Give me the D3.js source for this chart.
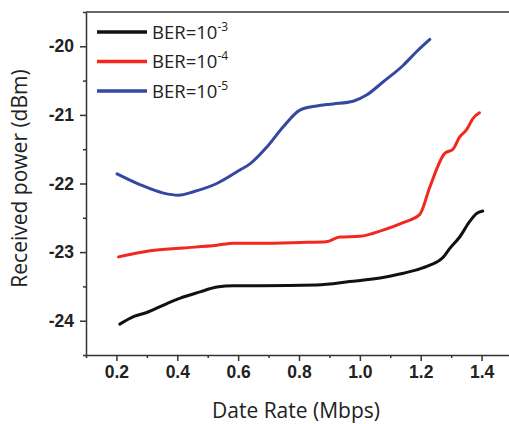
<!DOCTYPE html>
<html>
<head>
<meta charset="utf-8">
<script src="https://cdn.jsdelivr.net/npm/d3@7"></script>
<style>
  body { margin: 0; background: #fff; }
  svg { display: block; font-family: "Open Sans", "Noto Sans", sans-serif; }
  .axis path, .axis line { stroke: #333; stroke-width: 1.5; }
  .axis text { font-size: 17.5px; font-weight: 700; fill: #222; }
  .title { font-size: 21px; fill: #222; }
  .legend-label { font-size: 18.5px; fill: #222; }
</style>
</head>
<body>
<div id="chart"></div>
<script>
// data
const xTicks = [0.2, 0.4, 0.6, 0.8, 1.0, 1.2, 1.4];
const yTicks = [-20, -21, -22, -23, -24];

const ber3 = [
  [0.211, -24.05], [0.256, -23.94], [0.30, -23.88], [0.366, -23.75], [0.41, -23.67],
  [0.475, -23.58], [0.53, -23.51], [0.585, -23.49], [0.672, -23.49], [0.858, -23.48],
  [0.967, -23.43], [1.076, -23.37], [1.131, -23.32], [1.186, -23.26], [1.23, -23.19],
  [1.273, -23.08], [1.295, -22.95], [1.328, -22.78], [1.36, -22.56], [1.383, -22.44],
  [1.404, -22.40]
];
const ber4 = [
  [0.207, -23.07], [0.311, -22.98], [0.42, -22.94], [0.53, -22.90], [0.585, -22.87],
  [0.672, -22.87], [0.803, -22.86], [0.89, -22.85], [0.934, -22.78], [1.0, -22.77],
  [1.076, -22.68], [1.142, -22.57], [1.197, -22.45], [1.23, -22.05], [1.279, -21.56],
  [1.306, -21.50], [1.328, -21.32], [1.35, -21.22], [1.372, -21.05], [1.393, -20.97]
];
const ber5 = [
  [0.202, -21.86], [0.279, -22.02], [0.355, -22.14], [0.404, -22.17], [0.453, -22.12],
  [0.53, -22.0], [0.607, -21.80], [0.64, -21.71], [0.694, -21.47], [0.749, -21.17],
  [0.803, -20.93], [0.858, -20.87], [0.912, -20.84], [0.978, -20.80], [1.022, -20.71],
  [1.076, -20.52], [1.142, -20.28], [1.186, -20.08], [1.23, -19.90]
];
const seriesNames = ["-3", "-4", "-5"];
const seriesColors = ["#111111", "#f2271d", "#3547a0"];

const width = 509, height = 424;
const margin = {top: 12, right: -3, bottom: 69, left: 86};
const innerW = width - margin.left - margin.right;
const innerH = height - margin.top - margin.bottom;

const svg = d3.select('#chart').append('svg')
    .attr('width', width)
    .attr('height', height);

const g = svg.append('g')
    .attr('transform', `translate(${margin.left},${margin.top})`);

const x = d3.scaleLinear().domain([0.1, 1.5]).range([0, innerW]);
const y = d3.scaleLinear().domain([-24.5, -19.5]).range([innerH, 0]);

// minor ticks
g.append('g')
    .attr('class', 'axis')
    .attr('transform', `translate(0,${innerH})`)
    .call(d3.axisBottom(x).tickValues(d3.range(0.1, 1.55, 0.2)).tickSize(3).tickFormat(''))
    .select('.domain').remove();
g.append('g')
    .attr('class', 'axis')
    .call(d3.axisLeft(y).tickValues(d3.range(-24.5, -19.4, 1)).tickSize(3).tickFormat(''))
    .select('.domain').remove();

// major axes
g.append('g')
    .attr('class', 'axis')
    .attr('transform', `translate(0,${innerH})`)
    .call(d3.axisBottom(x).tickValues(xTicks).tickSize(6).tickSizeOuter(0).tickPadding(5)
      .tickFormat(d3.format('.1f')));
g.append('g')
    .attr('class', 'axis')
    .call(d3.axisLeft(y).tickValues(yTicks).tickSize(6).tickSizeOuter(0).tickPadding(6)
      .tickFormat(d => d3.format('d')(d).replace('−', '-')));

// top border
g.append('line')
    .attr('x1', 0).attr('x2', innerW)
    .attr('y1', 0).attr('y2', 0)
    .attr('stroke', '#333').attr('stroke-width', 1.5);

const line = d3.line()
    .x(d => x(d[0]))
    .y(d => y(d[1]))
    .curve(d3.curveMonotoneX);

[ber3, ber4, ber5].forEach((s, i) => {
  g.append('path')
      .datum(s)
      .attr('fill', 'none')
      .attr('stroke', seriesColors[i])
      .attr('stroke-width', 3)
      .attr('stroke-linecap', 'round')
      .attr('d', line);
});

// legend
const legend = svg.append('g').attr('transform', 'translate(97,32)');
seriesNames.forEach((n, i) => {
  const row = legend.append('g').attr('transform', `translate(0,${i * 29.5})`);
  row.append('line')
      .attr('x1', 0).attr('x2', 50)
      .attr('stroke', seriesColors[i]).attr('stroke-width', 3.5);
  const t = row.append('text')
      .attr('class', 'legend-label')
      .attr('x', 55).attr('y', 6.5);
  t.append('tspan').text('BER=10');
  t.append('tspan').attr('dy', -8).attr('font-size', 12).text(n);
});

// axis titles
svg.append('text')
    .attr('class', 'title')
    .attr('text-anchor', 'middle')
    .attr('x', margin.left + innerW / 2 - 3)
    .attr('y', 418)
    .text('Date Rate (Mbps)');

svg.append('text')
    .attr('class', 'title')
    .attr('text-anchor', 'middle')
    .attr('transform', `translate(27,${margin.top + innerH / 2 - 5}) rotate(-90)`)
    .text('Received power (dBm)');
</script>
</body>
</html>
